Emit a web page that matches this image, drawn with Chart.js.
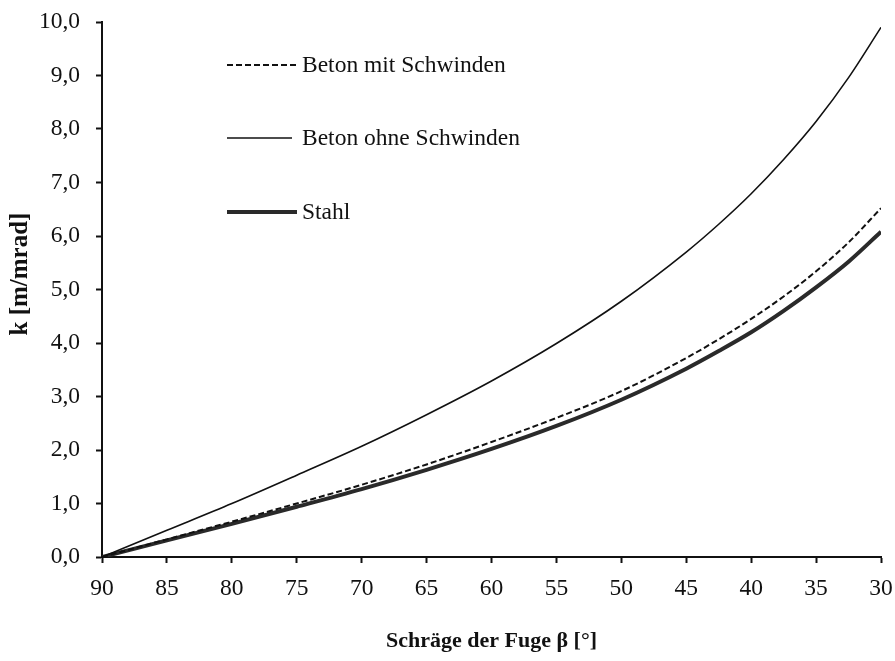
<!DOCTYPE html>
<html>
<head>
<meta charset="utf-8">
<script src="https://cdn.jsdelivr.net/npm/chart.js@4.4.1/dist/chart.umd.min.js"></script>
<style>
  html, body { margin: 0; padding: 0; background: #fff; }
  #wrap { width: 895px; height: 661px; position: relative; }
</style>
</head>
<body>
<div id="wrap"><canvas id="c" width="895" height="661"></canvas></div>
<script>
// ---- data ----
const angles = [90, 85, 80, 75, 70, 65, 60, 55, 50, 45, 42.5, 40, 37.5, 35, 32.5, 30];
const betonMitSchwinden = [0, 0.33, 0.66, 1.00, 1.35, 1.73, 2.15, 2.60, 3.10, 3.72, 4.07, 4.45, 4.87, 5.34, 5.88, 6.52];
const betonOhneSchwinden = [0, 0.50, 1.00, 1.53, 2.07, 2.66, 3.29, 3.99, 4.78, 5.70, 6.22, 6.79, 7.43, 8.14, 8.96, 9.90];
const stahl = [0, 0.31, 0.62, 0.94, 1.27, 1.63, 2.02, 2.45, 2.94, 3.52, 3.85, 4.20, 4.60, 5.04, 5.52, 6.08];
const seriesNames = ['Beton mit Schwinden', 'Beton ohne Schwinden', 'Stahl'];
const xTickLabels = ['90', '85', '80', '75', '70', '65', '60', '55', '50', '45', '40', '35', '30'];
const yTickLabels = ['0,0', '1,0', '2,0', '3,0', '4,0', '5,0', '6,0', '7,0', '8,0', '9,0', '10,0'];
const xTitle = 'Schräge der Fuge β [°]';
const yTitle = 'k [m/mrad]';

const toPts = arr => angles.map((a, i) => ({ x: a, y: arr[i] }));
const FONT = "'Liberation Serif', 'Times New Roman', serif";

const legendInside = {
  id: 'legendInside',
  afterDatasetsDraw(chart, args, opts) {
    const ctx = chart.ctx;
    chart.data.datasets.forEach((ds, i) => {
      const y = opts.ys[i];
      ctx.save();
      ctx.strokeStyle = ds.borderColor;
      ctx.lineWidth = ds.borderWidth;
      ctx.setLineDash(ds.borderDash || []);
      ctx.lineCap = 'butt';
      ctx.beginPath();
      ctx.moveTo(opts.x0, y);
      ctx.lineTo(opts.x1[i], y);
      ctx.stroke();
      ctx.setLineDash([]);
      ctx.fillStyle = '#111';
      ctx.font = opts.font;
      ctx.textBaseline = 'middle';
      ctx.textAlign = 'left';
      ctx.fillText(ds.label, opts.tx, y + 1);
      ctx.restore();
    });
  }
};

// y-axis title drawn beside the axis (reference is centred a bit above the plot centre)
const yTitlePlugin = {
  id: 'yTitlePlugin',
  afterDraw(chart, args, opts) {
    const ctx = chart.ctx;
    ctx.save();
    ctx.translate(opts.x, opts.y);
    ctx.rotate(-Math.PI / 2);
    ctx.font = opts.font;
    ctx.fillStyle = '#111';
    ctx.textAlign = 'center';
    ctx.textBaseline = 'middle';
    ctx.fillText(opts.text, 0, 0);
    ctx.restore();
  }
};

new Chart(document.getElementById('c'), {
  type: 'line',
  data: {
    datasets: [
      { label: seriesNames[0], data: toPts(betonMitSchwinden), borderColor: '#111', borderWidth: 2, borderDash: [6, 3], pointRadius: 0, cubicInterpolationMode: 'monotone', fill: false },
      { label: seriesNames[1], data: toPts(betonOhneSchwinden), borderColor: '#111', borderWidth: 1.6, pointRadius: 0, cubicInterpolationMode: 'monotone', fill: false },
      { label: seriesNames[2], data: toPts(stahl), borderColor: '#2a2a2a', borderWidth: 4, pointRadius: 0, cubicInterpolationMode: 'monotone', fill: false }
    ]
  },
  options: {
    responsive: false,
    animation: false,
    events: [],
    layout: { padding: { left: 0, right: 14, top: 22, bottom: 0 } },
    plugins: {
      legend: { display: false },
      tooltip: { enabled: false },
      legendInside: { x0: 227, x1: [297, 292, 297], tx: 302, ys: [65, 138, 212], font: '23.5px ' + FONT },
      yTitlePlugin: { text: yTitle, x: 21, y: 274, font: 'bold 25px ' + FONT }
    },
    scales: {
      x: {
        type: 'linear',
        reverse: true,
        min: 30, max: 90,
        afterFit: s => { s.height = 104; s.paddingLeft = 0; s.paddingRight = 0; },
        afterBuildTicks: s => { s.ticks = xTickLabels.map(t => ({ value: Number(t) })); },
        ticks: {
          callback: (v) => xTickLabels[xTickLabels.indexOf(String(v))] ?? '',
          color: '#111', font: { family: FONT, size: 23.5 }, padding: 12, maxRotation: 0, autoSkip: false
        },
        grid: { drawOnChartArea: false, drawTicks: true, tickLength: 6, color: '#111', tickWidth: 2 },
        border: { display: true, color: '#111', width: 2 },
        title: { display: true, text: xTitle, color: '#111', font: { family: FONT, size: 22, weight: 'bold' }, padding: { top: 0, bottom: 6 } }
      },
      y: {
        type: 'linear',
        min: 0, max: 10,
        afterFit: s => { s.width = 102; s.paddingTop = 0; s.paddingBottom = 0; },
        afterBuildTicks: s => { s.ticks = yTickLabels.map((t, i) => ({ value: i })); },
        ticks: {
          callback: (v) => yTickLabels[Math.round(v)],
          color: '#111', font: { family: FONT, size: 23.5 }, padding: 16, autoSkip: false
        },
        grid: { drawOnChartArea: false, drawTicks: true, tickLength: 6, color: '#111', tickWidth: 2 },
        border: { display: true, color: '#111', width: 2 },
        title: { display: false }
      }
    }
  },
  plugins: [legendInside, yTitlePlugin]
});
</script>
</body>
</html>
